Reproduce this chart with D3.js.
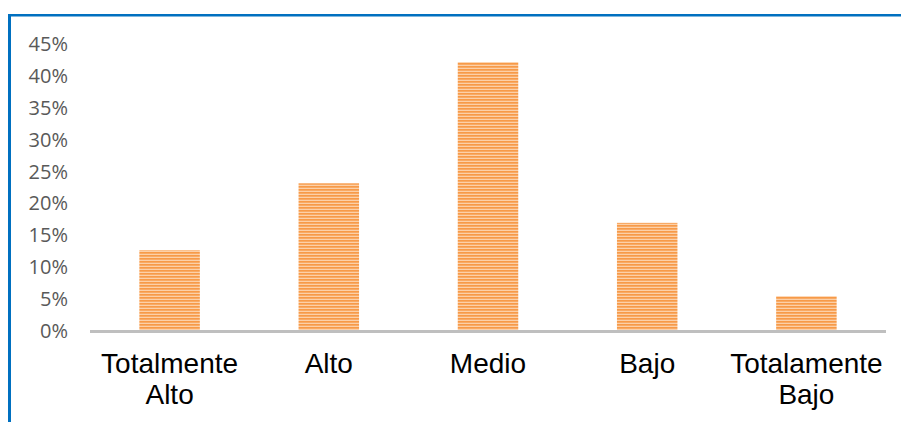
<!DOCTYPE html>
<html><head><meta charset="utf-8">
<script src="https://cdn.jsdelivr.net/npm/d3@7"></script>
<style>body{margin:0;background:#fff}svg{display:block}</style>
</head><body>
<svg id="c" width="901" height="422"></svg>
<script>
const categories = [["Totalmente","Alto"],["Alto"],["Medio"],["Bajo"],["Totalamente","Bajo"]];
const values = [0.125, 0.23, 0.42, 0.168, 0.053];
const yTicks = [0,0.05,0.10,0.15,0.20,0.25,0.30,0.35,0.40,0.45];

const svg = d3.select("#c");
const defs = svg.append("defs");
const pat = defs.append("pattern").attr("id","stripes").attr("patternUnits","userSpaceOnUse")
  .attr("width",8).attr("height",3);
pat.append("rect").attr("width",8).attr("height",3).attr("fill","#fcd0a8");
pat.append("rect").attr("width",8).attr("height",1.7).attr("fill","#f79a48");

// frame
svg.append("rect").attr("x",8).attr("y",14).attr("width",893).attr("height",2.5).attr("fill","#0070c0");
svg.append("rect").attr("x",8).attr("y",14).attr("width",3).attr("height",408).attr("fill","#0070c0");

const x = d3.scaleBand().domain(d3.range(values.length)).range([90,886]).paddingInner(0.62).paddingOuter(0.31);
const y = d3.scaleLinear().domain([0,0.45]).range([330,43]);

svg.append("g").selectAll("rect").data(values).join("rect")
  .attr("x",(d,i)=>x(i)).attr("width",x.bandwidth())
  .attr("y",d=>y(d)).attr("height",d=>y(0)-y(d))
  .attr("fill","url(#stripes)");

// y axis labels
svg.append("g").selectAll("text").data(yTicks).join("text")
  .attr("x",68).attr("y",d=>y(d)+1).attr("dy","0.35em").attr("text-anchor","end")
  .attr("font-family","Open Sans, sans-serif").attr("font-size",20).attr("fill","#595959")
  .text(d=>d3.format(".0%")(d));

// baseline
svg.append("line").attr("x1",90).attr("x2",886).attr("y1",y(0)+1.5).attr("y2",y(0)+1.5)
  .attr("stroke","#bfbfbf").attr("stroke-width",3);

// x labels
const xl = svg.append("g").selectAll("text").data(categories).join("text")
  .attr("x",(d,i)=>x(i)+x.bandwidth()/2).attr("y",373).attr("text-anchor","middle")
  .attr("font-family","Liberation Sans, Arial, sans-serif").attr("font-size",28).attr("fill","#000");
xl.selectAll("tspan").data(d=>d).join("tspan")
  .attr("x",function(){return this.parentNode.getAttribute("x");})
  .attr("dy",(d,i)=>i===0?0:31).text(d=>d);
</script>
</body></html>
